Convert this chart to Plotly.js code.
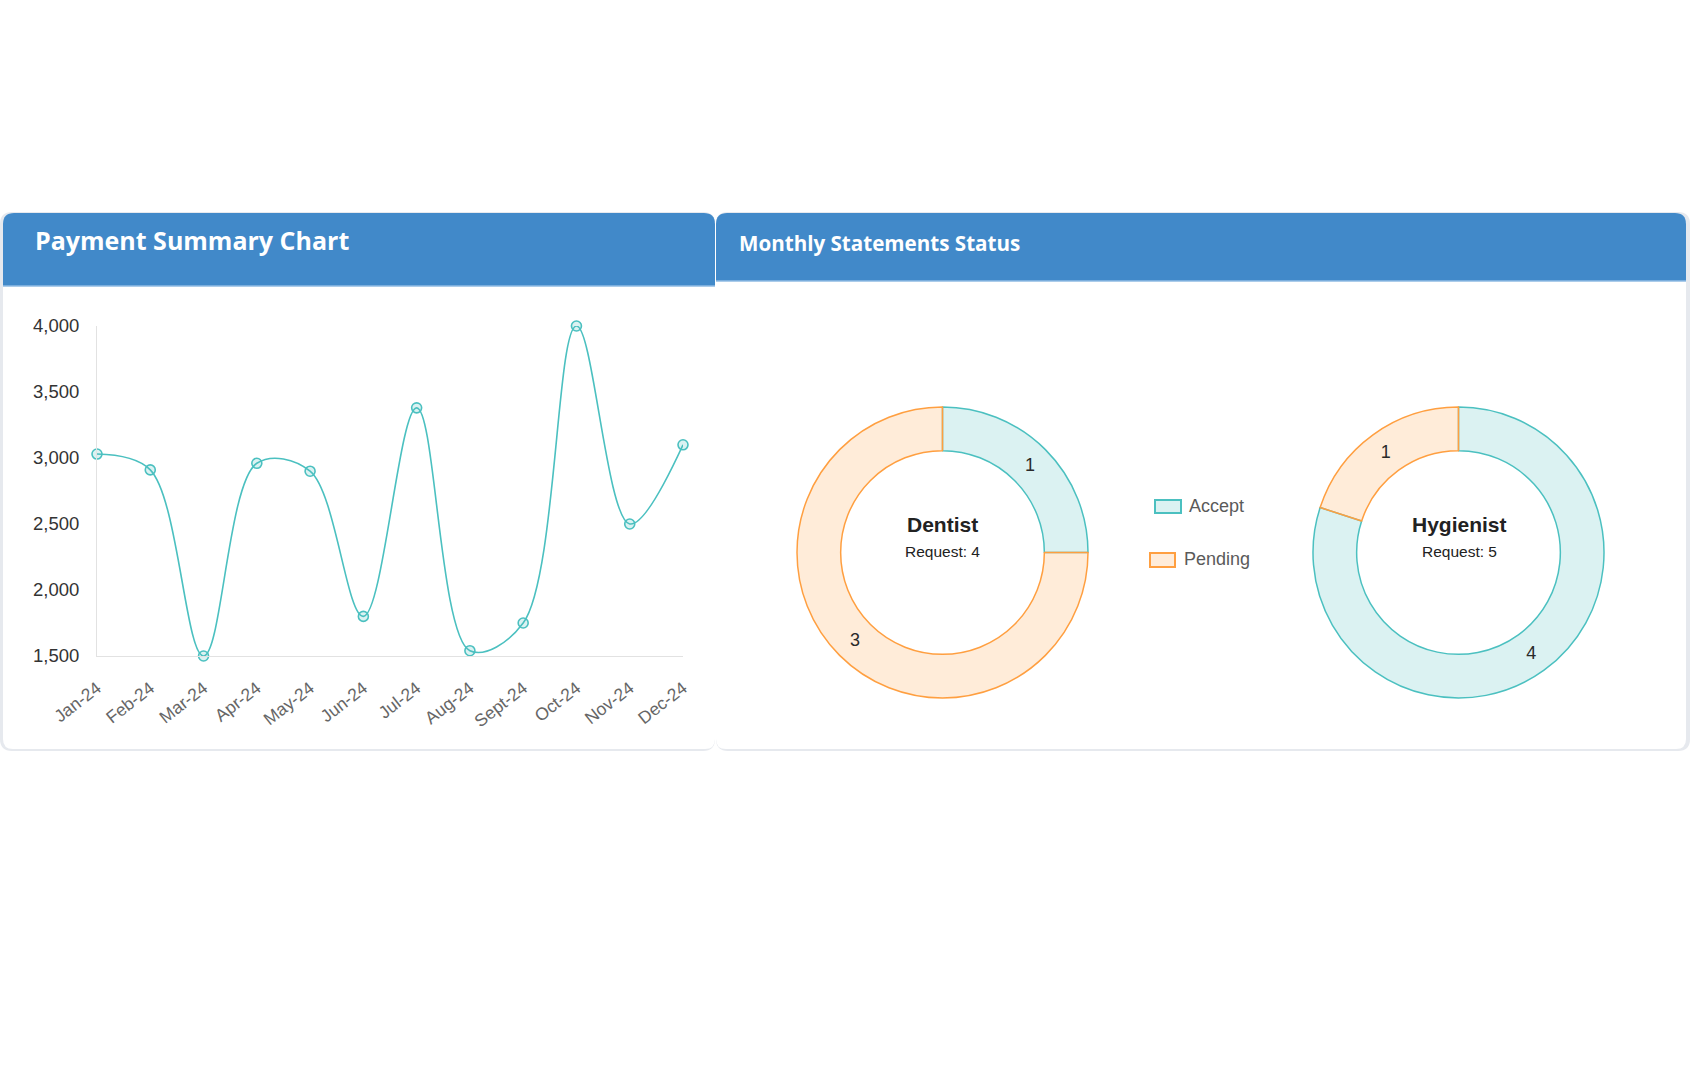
<!DOCTYPE html>
<html>
<head>
<meta charset="utf-8">
<script src="https://cdn.plot.ly/plotly-3.0.1.min.js"></script>
<style>
  html, body { margin: 0; padding: 0; background: #ffffff; }
  #chart { width: 1690px; height: 1079px; }
</style>
</head>
<body>
<div id="chart"></div>
<script>
  // Payment summary (line chart)
  var MONTHS = ["Jan-24", "Feb-24", "Mar-24", "Apr-24", "May-24", "Jun-24",
    "Jul-24", "Aug-24", "Sept-24", "Oct-24", "Nov-24", "Dec-24"];
  var PAYMENTS = [3030, 2910, 1500, 2960, 2900, 1800, 3380, 1540, 1750, 4000, 2500, 3100];
  var Y_TICKS = [1500, 2000, 2500, 3000, 3500, 4000];

  // Monthly statements status (donuts)
  var STATUS_LABELS = ["Accept", "Pending"];
  var DENTIST_COUNTS = [1, 3];
  var HYGIENIST_COUNTS = [4, 1];
  var DONUT_NAMES = ["Dentist", "Hygienist"];

  (function () {
    "use strict";

    var W = 1690;
    var H = 1079;

    var HEADER_BLUE = "#4189c9";
    var TEAL = "rgb(75, 192, 192)";
    var TEAL_FILL = "rgba(75, 192, 192, 0.2)";
    var ORANGE = "rgb(255, 159, 64)";
    var ORANGE_FILL = "rgba(255, 159, 64, 0.2)";
    var TEXT_FONT = '"Liberation Sans", Arial, sans-serif';
    var TITLE_FONT = '"Open Sans", "Noto Sans", sans-serif';

    // pixel -> paper helpers
    function px(x) { return x / W; }
    function py(y) { return 1 - y / H; }

    function sum(arr) {
      return arr.reduce(function (a, b) { return a + b; }, 0);
    }

    function roundedPath(x0, y0, x1, y1, rTop, rBottom) {
      return "M" + px(x0) + "," + py(y1 - rBottom) +
        " L" + px(x0) + "," + py(y0 + rTop) +
        " Q" + px(x0) + "," + py(y0) + " " + px(x0 + rTop) + "," + py(y0) +
        " L" + px(x1 - rTop) + "," + py(y0) +
        " Q" + px(x1) + "," + py(y0) + " " + px(x1) + "," + py(y0 + rTop) +
        " L" + px(x1) + "," + py(y1 - rBottom) +
        " Q" + px(x1) + "," + py(y1) + " " + px(x1 - rBottom) + "," + py(y1) +
        " L" + px(x0 + rBottom) + "," + py(y1) +
        " Q" + px(x0) + "," + py(y1) + " " + px(x0) + "," + py(y1 - rBottom) + " Z";
    }

    function pathShape(path, fill) {
      return {
        type: "path",
        xref: "paper",
        yref: "paper",
        path: path,
        fillcolor: fill,
        line: { width: 0 },
        layer: "below",
      };
    }

    function buildPanels() {
      var shapes = [];
      // soft shadow on the outer sides of the cards
      shapes.push(pathShape(roundedPath(0, 212, 715, 751, 12, 12), "#e6e9ee"));
      shapes.push(pathShape(roundedPath(716, 212, 1690, 751, 12, 12), "#e6e9ee"));
      // card bodies
      shapes.push(pathShape(roundedPath(3, 213, 715, 749, 11, 10), "#ffffff"));
      shapes.push(pathShape(roundedPath(716, 213, 1686, 749, 11, 10), "#ffffff"));
      // blue headers
      shapes.push(pathShape(roundedPath(3, 213, 715, 286, 11, 0), HEADER_BLUE));
      shapes.push(pathShape(roundedPath(716, 213, 1686, 281, 11, 0), HEADER_BLUE));
      // lighter bottom edge of headers
      shapes.push({
        type: "line", xref: "paper", yref: "paper", layer: "below",
        x0: px(3), x1: px(715), y0: py(286), y1: py(286),
        line: { color: "#8fbbe3", width: 1.5 },
      });
      shapes.push({
        type: "line", xref: "paper", yref: "paper", layer: "below",
        x0: px(716), x1: px(1686), y0: py(281), y1: py(281),
        line: { color: "#8fbbe3", width: 1.5 },
      });
      return shapes;
    }

    function buildLegendShapes() {
      return [
        {
          type: "rect", xref: "paper", yref: "paper",
          x0: px(1155), x1: px(1181), y0: py(500), y1: py(513),
          fillcolor: TEAL_FILL, line: { color: TEAL, width: 2 },
        },
        {
          type: "rect", xref: "paper", yref: "paper",
          x0: px(1150), x1: px(1175), y0: py(553), y1: py(567),
          fillcolor: ORANGE_FILL, line: { color: ORANGE, width: 2 },
        },
      ];
    }

    function textNote(text, x, y, size, opts) {
      opts = opts || {};
      return {
        xref: "paper",
        yref: "paper",
        x: px(x),
        y: py(y),
        xanchor: opts.xanchor || "center",
        yanchor: "middle",
        showarrow: false,
        text: text,
        font: {
          family: opts.family || TEXT_FONT,
          size: size,
          color: opts.color || "#222222",
          weight: opts.weight || "normal",
        },
      };
    }

    function buildAnnotations() {
      return [
        textNote("Payment Summary Chart", 33, 240, 25,
          { xanchor: "left", family: TITLE_FONT, color: "#ffffff", weight: "bold" }),
        textNote("Monthly Statements Status", 737, 243, 20.6,
          { xanchor: "left", family: TITLE_FONT, color: "#ffffff", weight: "bold" }),
        textNote(DONUT_NAMES[0], 942, 524, 21, { weight: "bold" }),
        textNote("Request: " + sum(DENTIST_COUNTS), 942, 551, 15.5),
        textNote(DONUT_NAMES[1], 1459, 524, 21, { weight: "bold" }),
        textNote("Request: " + sum(HYGIENIST_COUNTS), 1459, 551, 15.5),
        textNote(STATUS_LABELS[0], 1187, 506, 18, { xanchor: "left", color: "#5a5a5a" }),
        textNote(STATUS_LABELS[1], 1182, 559, 18, { xanchor: "left", color: "#5a5a5a" }),
      ];
    }

    function buildLineTrace() {
      return {
        type: "scatter",
        mode: "lines+markers",
        x: MONTHS,
        y: PAYMENTS,
        xaxis: "x",
        yaxis: "y",
        cliponaxis: false,
        line: { color: TEAL, width: 1.6, shape: "spline", smoothing: 1 },
        marker: {
          symbol: "circle",
          size: 10,
          color: TEAL_FILL,
          line: { color: TEAL, width: 1.6 },
        },
        showlegend: false,
        hoverinfo: "x+y",
      };
    }

    function buildDonut(counts, x0, x1) {
      return {
        type: "pie",
        labels: STATUS_LABELS,
        values: counts,
        sort: false,
        direction: "clockwise",
        rotation: 0,
        hole: 0.7,
        domain: { x: [px(x0), px(x1)], y: [py(698), py(407)] },
        marker: {
          colors: [TEAL_FILL, ORANGE_FILL],
          line: { color: [TEAL, ORANGE], width: 1.5 },
        },
        textinfo: "value",
        textposition: "inside",
        insidetextorientation: "horizontal",
        textfont: { family: TEXT_FONT, size: 18, color: "#2a2a2a" },
        showlegend: false,
        hoverinfo: "label+value",
      };
    }

    function buildLayout() {
      return {
        width: W,
        height: H,
        margin: { t: 0, r: 0, b: 0, l: 0, pad: 0 },
        paper_bgcolor: "#ffffff",
        plot_bgcolor: "rgba(0,0,0,0)",
        font: { family: TEXT_FONT, color: "#333333", size: 16 },
        showlegend: false,
        xaxis: {
          domain: [px(97), px(683)],
          type: "category",
          range: [0, MONTHS.length - 1],
          showgrid: false,
          zeroline: false,
          showline: true,
          linecolor: "#e2e2e2",
          linewidth: 1,
          ticks: "",
          tickangle: -38,
          ticklabelstandoff: 14,
          tickfont: { family: TEXT_FONT, size: 17.5, color: "#666666" },
          fixedrange: true,
        },
        yaxis: {
          domain: [py(656), py(326)],
          range: [Y_TICKS[0], Y_TICKS[Y_TICKS.length - 1]],
          tickvals: Y_TICKS,
          tickformat: ",d",
          showgrid: false,
          zeroline: false,
          showline: true,
          linecolor: "#e2e2e2",
          linewidth: 1,
          ticks: "",
          ticklabelstandoff: 13,
          tickfont: { family: TEXT_FONT, size: 18.5, color: "#333333" },
          fixedrange: true,
        },
        shapes: buildPanels().concat(buildLegendShapes()),
        annotations: buildAnnotations(),
      };
    }

    var traces = [
      buildLineTrace(),
      buildDonut(DENTIST_COUNTS, 796, 1089),
      buildDonut(HYGIENIST_COUNTS, 1313, 1604),
    ];

    Plotly.newPlot("chart", traces, buildLayout(), {
      displayModeBar: false,
      responsive: false,
      staticPlot: true,
    });
  })();
</script>
</body>
</html>
